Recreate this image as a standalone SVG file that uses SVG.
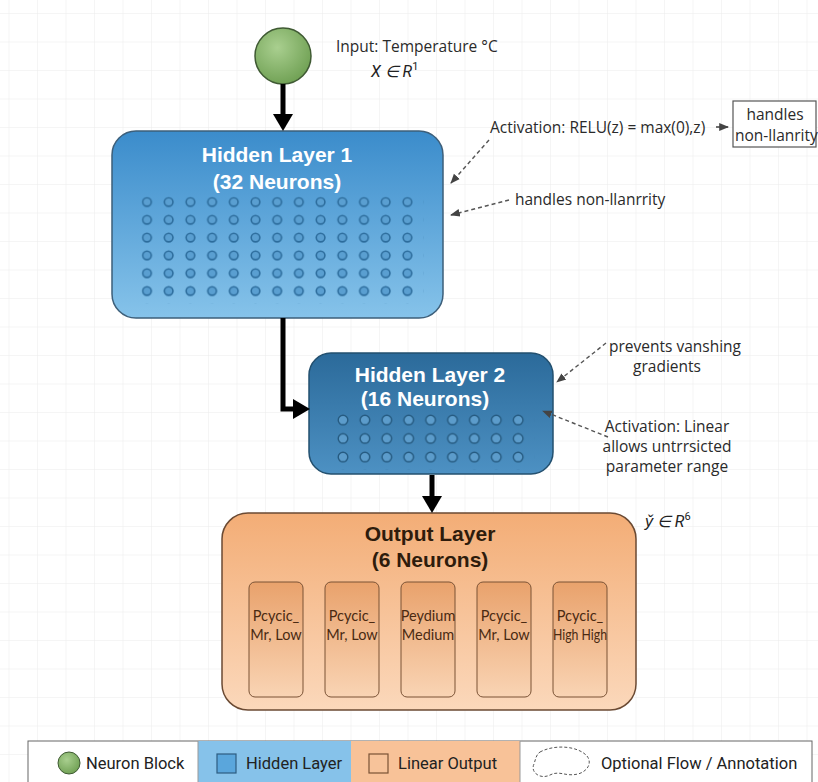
<svg xmlns="http://www.w3.org/2000/svg" width="818" height="782" viewBox="0 0 818 782">
  <style>
    .title-w { font-family: "Liberation Sans", Arial, sans-serif; font-weight: bold; font-size: 21px; fill: #ffffff; text-anchor: middle; }
    .title-d { font-family: "Liberation Sans", Arial, sans-serif; font-weight: bold; font-size: 21px; fill: #2e1c0c; text-anchor: middle; }
    .note { font-family: "Open Sans", "Liberation Sans", sans-serif; font-size: 15.5px; fill: #2a2a2a; }
    .math { font-family: Roboto, "Liberation Sans", sans-serif; font-style: italic; font-size: 16px; fill: #222222; }
    .cell { font-family: Lato, "Liberation Sans", sans-serif; font-size: 14.5px; fill: #4a2a12; text-anchor: middle; }
    .legend { font-family: Roboto, "Liberation Sans", sans-serif; font-size: 16.5px; fill: #222222; }
    .flow { fill: none; stroke: #000000; stroke-width: 5; }
    .dash { fill: none; stroke: #555555; stroke-width: 1.4; stroke-dasharray: 4 3; }
    .dot1 { fill: #5a9fd1; stroke: #2c6c9c; stroke-width: 1.6; }
    .dot2 { fill: #5c9ccb; stroke: #24597f; stroke-width: 1.4; }
  </style>
  <defs>
    <pattern id="grid" x="8.5" y="13" width="28.5" height="28.5" patternUnits="userSpaceOnUse">
      <path d="M 28.5 0 L 0 0 0 28.5" fill="none" stroke="#ececec" stroke-width="1"/>
    </pattern>
    <radialGradient id="gGreen" cx="0.4" cy="0.35" r="0.7">
      <stop offset="0" stop-color="#a9cf8f"/>
      <stop offset="1" stop-color="#6e9f52"/>
    </radialGradient>
    <linearGradient id="gBlue1" x1="0" y1="0" x2="0" y2="1">
      <stop offset="0" stop-color="#3b8ccb"/>
      <stop offset="1" stop-color="#86c3ea"/>
    </linearGradient>
    <linearGradient id="gBlue2" x1="0" y1="0" x2="0" y2="1">
      <stop offset="0" stop-color="#2b6a9a"/>
      <stop offset="1" stop-color="#4d91c3"/>
    </linearGradient>
    <linearGradient id="gOrange" x1="0" y1="0" x2="0" y2="1">
      <stop offset="0" stop-color="#f3ad76"/>
      <stop offset="1" stop-color="#fbd8bb"/>
    </linearGradient>
    <linearGradient id="gCell" x1="0" y1="0" x2="0" y2="1">
      <stop offset="0" stop-color="#e9a26c"/>
      <stop offset="1" stop-color="#f9d4b4"/>
    </linearGradient>
    <marker id="thin" viewBox="0 0 10 10" refX="9" refY="5" markerWidth="7" markerHeight="7" orient="auto">
      <path d="M0 1 L10 5 L0 9 Z" fill="#444444"/>
    </marker>
    <pattern id="dots1" x="141.5" y="196.5" width="21.7" height="17.8" patternUnits="userSpaceOnUse">
      <circle cx="5.5" cy="5.5" r="4.3" class="dot1"/>
    </pattern>
    <pattern id="dots2" x="337" y="414" width="21.9" height="18.5" patternUnits="userSpaceOnUse">
      <circle cx="6" cy="6" r="4.8" class="dot2"/>
    </pattern>
  </defs>

  <!-- background grid -->
  <rect width="818" height="782" fill="#ffffff"/>
  <rect width="818" height="782" fill="url(#grid)"/>

  <!-- input neuron -->
  <g id="input">
    <circle cx="283" cy="56" r="28" fill="url(#gGreen)" stroke="#3f5a33" stroke-width="1.5"/>
    <text class="note" x="336" y="52">Input: Temperature °C</text>
    <text class="math" x="371" y="77">X ∈ R<tspan font-size="11" dy="-7" font-style="normal">1</tspan></text>
  </g>

  <!-- hidden layer 1 -->
  <g id="hidden1">
    <rect x="112" y="131" width="331" height="187" rx="24" fill="url(#gBlue1)" stroke="#3d5f7a" stroke-width="1.5"/>
    <text class="title-w" x="277" y="162">Hidden Layer 1</text>
    <text class="title-w" x="277" y="189">(32 Neurons)</text>
    <rect x="141.5" y="196.5" width="282.1" height="106.8" fill="url(#dots1)"/>
  </g>

  <!-- hidden layer 2 -->
  <g id="hidden2">
    <rect x="309" y="353" width="244" height="121" rx="22" fill="url(#gBlue2)" stroke="#23506f" stroke-width="1.5"/>
    <text class="title-w" x="430" y="382">Hidden Layer 2</text>
    <text class="title-w" x="425" y="406">(16 Neurons)</text>
    <rect x="337" y="414" width="197.1" height="55.5" fill="url(#dots2)"/>
  </g>

  <!-- output layer -->
  <g id="output">
    <rect x="222" y="513" width="414" height="197" rx="26" fill="url(#gOrange)" stroke="#6b4a33" stroke-width="1.5"/>
    <text class="title-d" x="430" y="541">Output Layer</text>
    <text class="title-d" x="430" y="567">(6 Neurons)</text>
  </g>

  <g id="out1">
    <rect x="249" y="582" width="54" height="115" rx="6" fill="url(#gCell)" stroke="#7a5235" stroke-width="1"/>
    <text class="cell" x="276" y="621">Pcycic_</text>
    <text class="cell" x="276" y="640">Mr, Low</text>
  </g>
  <g id="out2">
    <rect x="325" y="582" width="54" height="115" rx="6" fill="url(#gCell)" stroke="#7a5235" stroke-width="1"/>
    <text class="cell" x="352" y="621">Pcycic_</text>
    <text class="cell" x="352" y="640">Mr, Low</text>
  </g>
  <g id="out3">
    <rect x="401" y="582" width="54" height="115" rx="6" fill="url(#gCell)" stroke="#7a5235" stroke-width="1"/>
    <text class="cell" x="428" y="621">Peydium</text>
    <text class="cell" x="428" y="640">Medium</text>
  </g>
  <g id="out4">
    <rect x="477" y="582" width="54" height="115" rx="6" fill="url(#gCell)" stroke="#7a5235" stroke-width="1"/>
    <text class="cell" x="504" y="621">Pcycic_</text>
    <text class="cell" x="504" y="640">Mr, Low</text>
  </g>
  <g id="out5">
    <rect x="553" y="582" width="54" height="115" rx="6" fill="url(#gCell)" stroke="#7a5235" stroke-width="1"/>
    <text class="cell" x="580" y="621">Pcycic_</text>
    <text class="cell" x="580" y="640" textLength="54" lengthAdjust="spacingAndGlyphs">High High</text>
  </g>

  <!-- connectors -->
  <g id="connectors">
    <path class="flow" d="M283 84 V115"/>
    <path d="M273 114 L293 114 L283 131 Z" fill="#000000"/>
    <path class="flow" d="M283 318 V409 H295"/>
    <path d="M293 399 L310 409 L293 419 Z" fill="#000000"/>
    <path class="flow" d="M432 475 V497"/>
    <path d="M422 496 L442 496 L432 513 Z" fill="#000000"/>

    <path class="dash" d="M489 140 L451 183" marker-end="url(#thin)"/>
    <path class="dash" d="M509 200 L451 215" marker-end="url(#thin)"/>
    <path class="dash" d="M606 343 L557 382" marker-end="url(#thin)"/>
    <path class="dash" d="M608 437 L543 411" marker-end="url(#thin)"/>
    <path d="M716 127 H728" fill="none" stroke="#333333" stroke-width="1.4" marker-end="url(#thin)"/>
  </g>

  <!-- annotations -->
  <g id="note-relu">
    <text class="note" x="490" y="133">Activation: RELU(z) = max(0),z)</text>
    <rect x="733" y="101" width="83" height="46" fill="#ffffff" stroke="#555555" stroke-width="1.2"/>
    <text class="note" x="775" y="120" text-anchor="middle">handles</text>
    <text class="note" x="735" y="141">non-llanrity</text>
  </g>
  <g id="note-nonlin">
    <text class="note" x="515" y="205">handles non-llanrrity</text>
  </g>
  <g id="note-grad">
    <text class="note" x="609" y="352">prevents vanshing</text>
    <text class="note" x="667" y="372" text-anchor="middle">gradients</text>
  </g>
  <g id="note-linear">
    <text class="note" x="667" y="432" text-anchor="middle">Activation: Linear</text>
    <text class="note" x="667" y="452" text-anchor="middle">allows untrrsicted</text>
    <text class="note" x="667" y="472" text-anchor="middle">parameter range</text>
  </g>
  <g id="note-yhat">
    <text class="math" x="645" y="527">y̌ ∈ R<tspan font-size="11" dy="-7" font-style="normal">6</tspan></text>
  </g>

  <!-- legend -->
  <g id="legend">
    <rect x="28" y="741" width="784" height="44" fill="#ffffff" stroke="#666666" stroke-width="1"/>
    <rect x="198" y="741" width="153" height="44" fill="#86c2ea"/>
    <rect x="351" y="741" width="169" height="44" fill="#f8c298"/>
    <line x1="198" y1="741" x2="198" y2="782" stroke="#999999"/>
    <line x1="520" y1="741" x2="520" y2="782" stroke="#999999"/>
    <circle cx="69" cy="763" r="11" fill="url(#gGreen)" stroke="#3f5a33" stroke-width="1"/>
    <text class="legend" x="86" y="769">Neuron Block</text>
    <rect x="217" y="754" width="19" height="19" fill="#5aa6dc" stroke="#2d5c80" stroke-width="1.2"/>
    <text class="legend" x="246" y="769">Hidden Layer</text>
    <rect x="369" y="754" width="19" height="19" fill="#f7c39a" stroke="#7a5235" stroke-width="1.2"/>
    <text class="legend" x="398" y="769">Linear Output</text>
    <path d="M540 752 C555 744 578 746 587 756 C593 764 586 772 578 774 C565 777 560 770 550 775 C540 780 530 772 534 764 C536 758 536 755 540 752 Z" fill="none" stroke="#555555" stroke-width="1" stroke-dasharray="3 2"/>
    <text class="legend" x="601" y="769">Optional Flow / Annotation</text>
  </g>
</svg>
